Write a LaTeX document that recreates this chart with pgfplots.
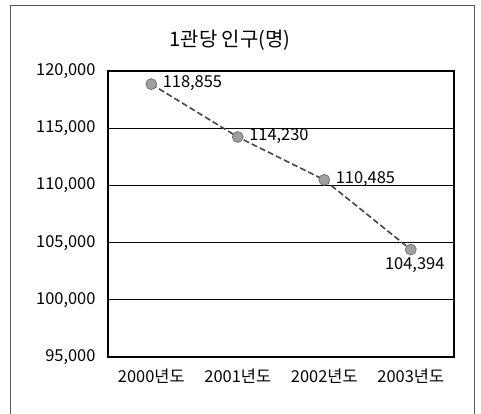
\documentclass[border=0pt]{standalone}
\usepackage{pgfplots}
\pgfplotsset{compat=1.18}
\usepackage{fontspec}
\setmainfont{Noto Sans CJK KR}
\begin{document}
\begin{tikzpicture}[x=1bp,y=1bp]
\useasboundingbox (0,0) rectangle (481,413);
\draw[gray!70!black, line width=0.8bp] (10,-2) -- (10,408) -- (474,408) -- (474,-2);
\node[font=\fontsize{20}{24}\selectfont] at (230,373) {1관당 인구(명)};
\begin{axis}[
  at={(108bp,56bp)}, anchor=south west,
  scale only axis, width=346bp, height=286bp,
  xmin=-0.5, xmax=3.5, ymin=95000, ymax=120000,
  xtick={0,1,2,3}, xticklabels={2000년도,2001년도,2002년도,2003년도},
  major x tick style={draw=none},
  extra x ticks={0.5,1.5,2.5}, extra x tick labels={},
  extra x tick style={major tick length=5bp, tick align=inside, tick style={black, line width=0.8bp}, grid=none},
  ytick={95000,100000,...,120000},
  ymajorgrids, grid style={black, line width=0.8bp},
  major y tick style={draw=none},
  axis line style={black, line width=1.3bp},
  tick label style={font=\fontsize{16.5}{18}\selectfont},
  /pgf/number format/assume math mode=true,
  yticklabel style={/pgf/number format/fixed, /pgf/number format/1000 sep={,}, xshift=-9bp},
  scaled y ticks=false,
  xticklabel style={yshift=-8bp},
  clip=false,
]
\addplot[gray!55!black, line width=1.6bp, dash pattern=on 6bp off 3bp,
  mark=*, mark size=5.5bp, mark options={solid, fill=gray!75, draw=gray!80!black, line width=0.6bp}]
  coordinates {(0,118855) (1,114230) (2,110485) (3,104394)};
\addplot[draw=none, mark=none, nodes near coords={\pgfmathprintnumber[fixed,1000 sep={,}]{\pgfplotspointmeta}},
  nodes near coords style={anchor=west, xshift=8bp, yshift=1bp, font=\fontsize{16.5}{18}\selectfont}]
  coordinates {(0,118855) (1,114230) (2,110485)};
\addplot[draw=none, mark=none, nodes near coords={\pgfmathprintnumber[fixed,1000 sep={,}]{\pgfplotspointmeta}},
  nodes near coords style={anchor=north, xshift=4bp, yshift=-5bp, font=\fontsize{16.5}{18}\selectfont}]
  coordinates {(3,104394)};
\end{axis}
\end{tikzpicture}
\end{document}
